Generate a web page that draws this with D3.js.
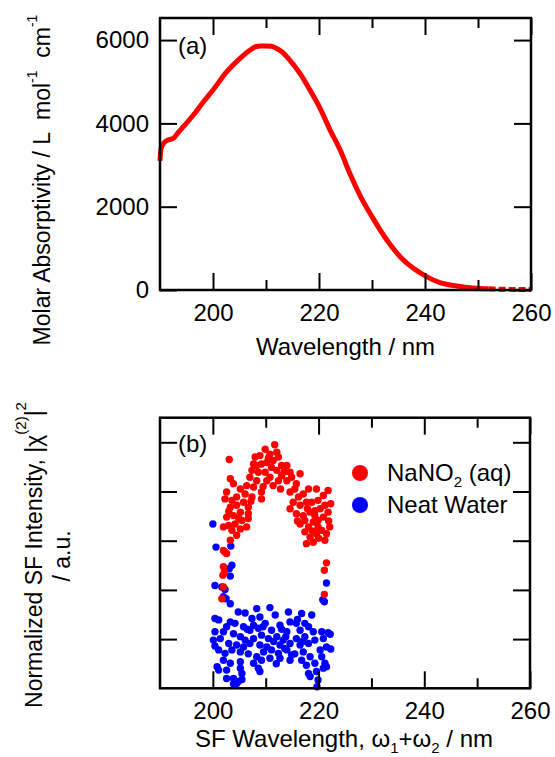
<!DOCTYPE html>
<html>
<head lang="en">
    <meta charset="UTF-8">
    <title>NaNO2 absorption and SF spectra</title>
    <script src="https://d3js.org/d3.v7.min.js"></script>

    <style>
        body { margin: 0; background: #fff; }
        svg { display: block; }
        text {
            font-family: "Liberation Sans", Arial, sans-serif;
            font-size: 24px;
            fill: #000;
        }
        .ylab { font-size: 23px; }
        .tick line { stroke: #000; stroke-width: 2px; }
        .frame { fill: none; stroke: #000; stroke-width: 2.5px; }
    </style>
</head>
<body>

<script>

    // (a) molar absorptivity spectrum
    var wavelength = [190, 190.2, 190.8, 191.5, 192.6, 193.3, 194.4, 196.3, 198.2, 200, 202.6, 205.1,
        207, 208, 209, 210, 211, 212, 213, 214.2, 216.4, 218.3, 220.2, 222.1, 224, 225.8, 227.7,
        230.2, 232.8, 235.3, 237.8, 240.3, 242.8, 246, 249, 252, 254, 256, 258, 260];
    var absorptivity = [3100, 3400, 3540, 3600, 3650, 3760, 3920, 4200, 4520, 4800, 5240, 5560,
        5760, 5840, 5860, 5860, 5850, 5800, 5720, 5560, 5200, 4800, 4360, 3840, 3360, 2800, 2280,
        1720, 1200, 800, 520, 320, 175, 96, 48, 28, 20, 15, 12, 12];
    var absTicks = [0, 2000, 4000, 6000];
    var wlMajor = [200, 220, 240, 260];
    var wlMinor = [210, 230, 250];

    // (b) SF intensity, [wavelength, normalized intensity]
    var sfTicks = [1, 2, 3, 4, 5];
    var nano2Points = [
        [203.1, 4.65], [209.9, 4.86], [208.9, 4.73], [208.0, 4.70], [210.8, 4.76], [212.1, 4.80],
        [212.4, 4.70], [211.4, 4.63], [210.2, 4.59], [209.2, 4.56], [208.3, 4.53], [207.7, 4.56],
        [213.0, 4.53], [214.0, 4.53], [211.1, 4.49], [212.1, 4.43], [209.9, 4.39], [208.6, 4.39],
        [207.4, 4.43], [210.8, 4.29], [213.0, 4.32], [214.6, 4.39], [214.9, 4.29], [214.0, 4.22],
        [212.4, 4.22], [210.2, 4.22], [208.3, 4.22], [207.0, 4.29], [206.4, 4.12], [209.2, 3.99],
        [209.2, 3.85], [211.4, 4.12], [215.8, 4.16], [216.5, 4.36], [215.5, 4.05], [214.6, 3.99],
        [216.2, 3.89], [217.1, 3.95], [218.1, 4.05], [219.6, 4.05], [221.8, 4.02], [220.9, 3.92],
        [219.9, 3.82], [218.7, 3.78], [217.7, 3.78], [216.5, 3.72], [215.2, 3.78], [214.6, 3.65],
        [215.8, 3.55], [217.1, 3.51], [218.4, 3.58], [219.3, 3.61], [220.3, 3.65], [221.2, 3.72],
        [221.8, 3.58], [220.9, 3.48], [219.9, 3.41], [219.0, 3.38], [218.1, 3.28], [217.4, 3.41],
        [216.5, 3.34], [217.4, 3.18], [218.4, 3.07], [219.6, 3.14], [220.6, 3.21], [221.5, 3.14],
        [222.1, 3.28], [217.7, 2.94], [219.0, 2.97], [221.2, 3.01], [219.9, 3.28], [219.3, 3.51],
        [203.3, 4.26], [203.9, 4.16], [202.6, 3.99], [205.2, 4.05], [206.1, 3.95], [204.5, 3.89],
        [203.6, 3.82], [202.3, 3.85], [203.3, 3.68], [204.5, 3.72], [205.8, 3.78], [206.7, 3.68],
        [205.2, 3.58], [203.9, 3.51], [202.6, 3.48], [202.0, 3.28], [203.0, 3.31], [204.2, 3.34],
        [205.5, 3.41], [206.7, 3.45], [206.4, 3.28], [205.2, 3.24], [203.6, 3.21], [204.5, 3.11],
        [203.3, 3.01], [206.7, 3.55], [207.4, 3.89], [207.7, 4.09],
        [211.7, 4.95], [210.5, 4.68], [213.5, 4.40], [209.5, 4.10], [212.8, 4.05], [216.0, 3.40],
        [218.8, 3.20], [220.0, 3.05], [217.9, 3.65], [221.9, 3.40], [222.3, 3.75], [204.9, 3.45],
        [203.0, 3.60], [207.2, 3.80],
        [202.0, 2.80], [202.6, 2.74], [202.3, 2.77], [202.0, 2.47], [202.2, 2.36], [201.9, 2.30],
        [202.0, 2.06], [201.7, 1.82], [221.5, 2.55], [221.1, 2.40], [221.1, 1.91]
    ];
    var waterPoints = [
        [200.0, 3.34], [200.6, 2.87], [203.4, 2.89], [203.6, 2.50], [203.1, 2.43], [203.3, 2.28],
        [200.4, 2.09], [201.7, 2.06], [202.3, 2.01], [202.0, 1.86], [202.5, 1.82], [203.3, 1.72],
        [204.8, 1.55], [206.1, 1.53], [208.3, 1.62], [210.8, 1.64], [211.8, 1.49], [214.3, 1.55],
        [216.8, 1.52], [218.7, 1.49], [208.9, 1.45], [207.4, 1.42], [200.4, 1.42], [201.1, 1.39],
        [203.3, 1.35], [204.2, 1.32], [205.8, 1.25], [207.7, 1.28], [209.9, 1.32], [212.7, 1.28],
        [214.6, 1.35], [215.8, 1.32], [217.4, 1.32], [218.1, 1.25], [202.6, 1.25], [202.0, 1.15],
        [200.4, 1.15], [203.9, 1.11], [207.0, 1.18], [208.6, 1.22], [211.1, 1.18], [214.0, 1.15],
        [216.5, 1.18], [219.0, 1.15], [220.6, 1.15], [221.8, 1.13], [200.1, 0.98], [201.4, 1.01],
        [203.0, 0.91], [205.2, 1.05], [206.1, 0.98], [207.7, 1.01], [209.2, 1.08], [210.5, 1.01],
        [212.1, 1.05], [213.3, 0.98], [214.6, 0.91], [215.8, 1.01], [217.4, 1.05], [218.1, 0.91],
        [219.3, 0.98], [220.9, 1.01], [200.4, 0.86], [204.5, 0.88], [205.8, 0.84], [207.0, 0.91],
        [208.9, 0.88], [210.2, 0.84], [212.7, 0.88], [213.6, 0.81], [216.5, 0.88], [201.1, 0.78],
        [202.3, 0.71], [203.6, 0.78], [205.2, 0.74], [206.7, 0.70], [208.3, 0.64], [209.6, 0.74],
        [211.1, 0.78], [212.4, 0.71], [214.0, 0.78], [214.9, 0.68], [217.1, 0.74], [218.4, 0.64],
        [220.3, 0.78], [221.5, 0.84], [220.6, 0.64], [202.0, 0.57], [203.3, 0.51], [205.2, 0.54],
        [207.7, 0.51], [209.2, 0.57], [210.8, 0.61], [212.7, 0.61], [214.6, 0.57], [216.8, 0.57],
        [217.7, 0.47], [219.3, 0.51], [221.2, 0.51], [200.8, 0.44], [202.6, 0.37], [205.2, 0.41],
        [201.1, 0.37], [205.5, 0.30], [203.9, 0.20], [202.6, 0.20], [204.8, 0.14], [205.5, 0.18],
        [208.9, 0.34], [208.6, 0.41], [218.1, 0.30], [219.6, 0.34], [218.4, 0.24], [220.9, 0.41],
        [221.5, 0.44], [219.9, 0.17], [219.7, 0.03], [203.9, 0.09], [204.5, 0.10], [221.5, 2.14],
        [220.8, 1.80], [221.1, 1.76], [222.2, 1.10], [222.3, 0.80], [213.0, 1.20], [211.5, 0.95],
        [215.5, 0.70], [209.5, 1.25], [206.5, 1.20], [216.0, 1.40], [212.0, 0.50], [217.0, 0.95],
        [213.8, 1.05]
    ];

    var width = 555,
        height = 757;

    var svg = d3.select("body").append("svg")
        .attr("width", width)
        .attr("height", height);

    // panel boxes
    var boxA = {left: 160, right: 531, top: 18, bottom: 290};
    var boxB = {left: 160, right: 530, top: 417.7, bottom: 688.3};

    var xA = d3.scaleLinear().domain([190, 260]).range([boxA.left, boxA.right]);
    var yA = d3.scaleLinear().domain([0, 6530]).range([boxA.bottom, boxA.top]);
    var xB = d3.scaleLinear().domain([190, 260]).range([boxB.left, boxB.right]);
    var yB = d3.scaleLinear().domain([0, 5.5]).range([boxB.bottom, boxB.top]);

    function drawAxis(g, axis) {
        g.call(axis);
        g.select(".domain").remove();
    }

    function frameAxes(box, x, y, yTicks, yLabels) {
        var g = svg.append("g");
        drawAxis(g.append("g").attr("transform", "translate(0," + box.bottom + ")"),
            d3.axisBottom(x).tickValues(wlMajor).tickSize(-17).tickPadding(14).tickFormat(d3.format("d")));
        drawAxis(g.append("g").attr("transform", "translate(0," + box.bottom + ")"),
            d3.axisBottom(x).tickValues(wlMinor).tickSize(-10).tickFormat(""));
        drawAxis(g.append("g").attr("transform", "translate(0," + box.top + ")"),
            d3.axisTop(x).tickValues(wlMajor).tickSize(-17).tickFormat(""));
        drawAxis(g.append("g").attr("transform", "translate(0," + box.top + ")"),
            d3.axisTop(x).tickValues(wlMinor).tickSize(-10).tickFormat(""));
        var left = d3.axisLeft(y).tickValues(yTicks).tickSize(-17).tickPadding(11);
        left.tickFormat(yLabels ? d3.format("d") : "");
        drawAxis(g.append("g").attr("transform", "translate(" + box.left + ",0)"), left);
        drawAxis(g.append("g").attr("transform", "translate(" + box.right + ",0)"),
            d3.axisRight(y).tickValues(yTicks).tickSize(-17).tickFormat(""));
        g.append("rect").attr("class", "frame")
            .attr("x", box.left).attr("y", box.top)
            .attr("width", box.right - box.left).attr("height", box.bottom - box.top);
    }

    // ---- panel (a)
    var spectrum = wavelength.map(function(d, i) { return [d, absorptivity[i]]; });
    var line = d3.line()
        .x(function(d) { return xA(d[0]); })
        .y(function(d) { return yA(d[1]); })
        .curve(d3.curveMonotoneX);

    svg.append("path")
        .datum(spectrum.filter(function(d) { return d[0] <= 252; }))
        .attr("d", line)
        .attr("fill", "none").attr("stroke", "#ff0000").attr("stroke-width", 5);
    // noisy tail near zero looks broken up
    svg.append("path")
        .datum(spectrum.filter(function(d) { return d[0] >= 252; }))
        .attr("d", line)
        .attr("fill", "none").attr("stroke", "#ff0000").attr("stroke-width", 5)
        .attr("stroke-dasharray", "7,3");

    frameAxes(boxA, xA, yA, absTicks, true);

    svg.append("text").attr("x", 178).attr("y", 54).text("(a)");

    svg.append("text")
        .attr("x", xA(225)).attr("y", 355)
        .attr("text-anchor", "middle")
        .text("Wavelength / nm");

    var ylabA = svg.append("text")
        .attr("class", "ylab")
        .attr("transform", "translate(50,180) rotate(-90)")
        .attr("text-anchor", "middle")
        .style("white-space", "pre");
    ylabA.append("tspan").text("Molar Absorptivity / L  mol");
    ylabA.append("tspan").attr("dy", -13).style("font-size", "14px").text("-1");
    ylabA.append("tspan").attr("dy", 13).text("  cm");
    ylabA.append("tspan").attr("dy", -13).style("font-size", "14px").text("-1");

    // ---- panel (b)
    svg.append("g").selectAll("circle")
        .data(waterPoints)
        .enter().append("circle")
        .attr("cx", function(d) { return xB(d[0]); })
        .attr("cy", function(d) { return yB(d[1]); })
        .attr("r", 3.7)
        .attr("fill", "#0000ff");

    svg.append("g").selectAll("circle")
        .data(nano2Points)
        .enter().append("circle")
        .attr("cx", function(d) { return xB(d[0]); })
        .attr("cy", function(d) { return yB(d[1]); })
        .attr("r", 3.7)
        .attr("fill", "#ff0000");

    frameAxes(boxB, xB, yB, sfTicks, false);

    svg.append("text").attr("x", 178).attr("y", 452).text("(b)");

    // legend
    var legend = [
        {color: "#ff0000", main: "NaNO", sub: "2", rest: " (aq)"},
        {color: "#0000ff", main: "Neat Water", sub: "", rest: ""}
    ];
    var lg = svg.append("g").selectAll("g")
        .data(legend)
        .enter().append("g")
        .attr("transform", function(d, i) { return "translate(360," + (473 + i * 32) + ")"; });
    lg.append("circle").attr("r", 8).attr("fill", function(d) { return d.color; });
    var lt = lg.append("text").attr("x", 27).attr("y", 8).style("white-space", "pre");
    lt.append("tspan").text(function(d) { return d.main; });
    lt.append("tspan").attr("dy", 6).style("font-size", "15px").text(function(d) { return d.sub; });
    lt.append("tspan").attr("dy", -6).text(function(d) { return d.rest; });

    var xlabB = svg.append("text")
        .attr("x", 344).attr("y", 747)
        .attr("text-anchor", "middle");
    xlabB.append("tspan").text("SF Wavelength, \u03c9");
    xlabB.append("tspan").attr("dy", 6).style("font-size", "15px").text("1");
    xlabB.append("tspan").attr("dy", -6).text("+\u03c9");
    xlabB.append("tspan").attr("dy", 6).style("font-size", "15px").text("2");
    xlabB.append("tspan").attr("dy", -6).text(" / nm");

    var ylabB = svg.append("text")
        .attr("class", "ylab")
        .attr("transform", "translate(42,555) rotate(-90)")
        .attr("text-anchor", "middle");
    ylabB.append("tspan").text("Normalized SF Intensity, |\u03c7");
    ylabB.append("tspan").attr("dy", -16).style("font-size", "15px").text("(2)");
    ylabB.append("tspan").attr("dy", 16).text("|");
    ylabB.append("tspan").attr("dy", -16).style("font-size", "15px").text("2");

    svg.append("text")
        .attr("class", "ylab")
        .attr("transform", "translate(70,556) rotate(-90)")
        .attr("text-anchor", "middle")
        .text("/ a.u.");

</script>
</body>
</html>
